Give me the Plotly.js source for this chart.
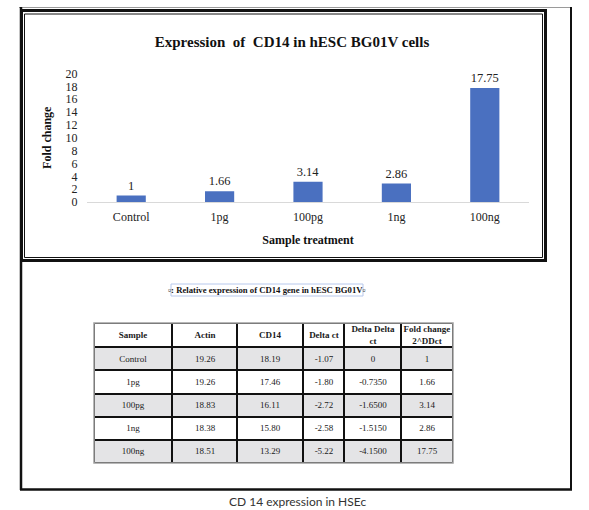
<!DOCTYPE html>
<html>
<head>
<meta charset="utf-8">
<script src="https://cdn.plot.ly/plotly-3.0.1.min.js"></script>
<style>
html,body{margin:0;padding:0;background:#fff;}
#chart{width:589px;height:510px;}
</style>
</head>
<body>
<div id="chart"></div>
<script>
// ---- data ----
const categories = ["Control", "1pg", "100pg", "1ng", "100ng"];
const foldChange = [1, 1.66, 3.14, 2.86, 17.75];
const foldLabels = ["1", "1.66", "3.14", "2.86", "17.75"];
const yTickVals = [0, 2, 4, 6, 8, 10, 12, 14, 16, 18, 20];

const tableHeaders = ["Sample", "Actin", "CD14", "Delta ct", "Delta Delta<br>ct", "Fold change<br>2^DDct"];
const colSample = ["Control", "1pg", "100pg", "1ng", "100ng"];
const colActin = ["19.26", "19.26", "18.83", "18.38", "18.51"];
const colCD14 = ["18.19", "17.46", "16.11", "15.80", "13.29"];
const colDeltaCt = ["-1.07", "-1.80", "-2.72", "-2.58", "-5.22"];
const colDeltaDeltaCt = ["0", "-0.7350", "-1.6500", "-1.5150", "-4.1500"];
const colFold = ["1", "1.66", "3.14", "2.86", "17.75"];

const chartTitle = "Expression&nbsp; of&nbsp; CD14 in hESC BG01V cells";
const xTitle = "Sample treatment";
const yTitle = "Fold change";
const tableCaption = "\u25AB: Relative expression of CD14 gene in hESC BG01V\u25AB";
const figureCaption = "CD 14 expression in HSEc";

// ---- layout helpers ----
const W = 589, H = 510;
const px = v => v / W;
const py = v => 1 - v / H;
const serif = "Liberation Serif";

// table geometry (layout, not data)
const columnWidths = [78, 65, 66, 41, 57, 52];
const headerHeight = 24, rowHeight = 23;
const colEdges = [0];
columnWidths.forEach(w => colEdges.push(colEdges[colEdges.length - 1] + w));
const rowEdges = [0, headerHeight];
colSample.forEach(() => rowEdges.push(rowEdges[rowEdges.length - 1] + rowHeight));
const tableW = colEdges[colEdges.length - 1];
const tableH = rowEdges[rowEdges.length - 1];

// build table grid from the named columns
const columns = [colSample, colActin, colCD14, colDeltaCt, colDeltaDeltaCt, colFold];
const tableText = [tableHeaders.map(h => "<b>" + h + "</b>")];
const tableShade = [tableHeaders.map(() => 0)];
colSample.forEach((_, r) => {
  tableText.push(columns.map(c => c[r]));
  tableShade.push(columns.map(() => (r % 2 === 0 ? 1 : 0)));
});

const bar = {
  type: "bar",
  x: categories,
  y: foldChange,
  text: foldLabels,
  texttemplate: "%{text}",
  textposition: "outside",
  cliponaxis: false,
  textfont: {family: serif, size: 12.5, color: "#222"},
  outsidetextfont: {family: serif, size: 12.5, color: "#222"},
  marker: {color: "#4a70c0"},
  hoverinfo: "x+y",
  xaxis: "x", yaxis: "y"
};

const table = {
  type: "heatmap",
  x: colEdges,
  y: rowEdges,
  z: tableShade,
  zmin: 0, zmax: 1,
  colorscale: [[0, "#ffffff"], [1, "#e4e4e6"]],
  showscale: false,
  xgap: 2, ygap: 2,
  text: tableText,
  texttemplate: "%{text}",
  textfont: {family: serif, size: 9, color: "#1a1a1a"},
  hoverinfo: "skip",
  xaxis: "x2", yaxis: "y2"
};

const layout = {
  width: W, height: H,
  margin: {l: 0, r: 0, t: 0, b: 0},
  paper_bgcolor: "#ffffff",
  plot_bgcolor: "rgba(0,0,0,0)",
  font: {family: serif, color: "#222"},
  showlegend: false,
  bargap: 0.67,
  title: {
    text: "<b>" + chartTitle + "</b>",
    font: {family: serif, size: 15, color: "#111"},
    x: px(292), xanchor: "center",
    y: py(42), yanchor: "middle"
  },
  xaxis: {
    domain: [px(87), px(529)],
    anchor: "y",
    showline: true, linecolor: "#d9d9d9", linewidth: 1,
    showgrid: false, zeroline: false,
    ticks: "outside", ticklen: 4, tickcolor: "rgba(0,0,0,0)",
    tickfont: {family: serif, size: 12, color: "#222"},
    title: {text: "<b>" + xTitle + "</b>", font: {family: serif, size: 12, color: "#111"}, standoff: 12}
  },
  yaxis: {
    domain: [py(202), py(73.5)],
    anchor: "x",
    range: [0, 20],
    tickvals: yTickVals,
    showline: false, showgrid: false, zeroline: false,
    ticks: "outside", ticklen: 6, tickcolor: "rgba(0,0,0,0)",
    tickfont: {family: serif, size: 12, color: "#222"},
    title: {text: "<b>" + yTitle + "</b>", font: {family: serif, size: 12, color: "#111"}, standoff: 11}
  },
  xaxis2: {
    domain: [px(94), px(453)],
    anchor: "y2",
    range: [0, tableW],
    showgrid: false, zeroline: false, showline: false, showticklabels: false, ticks: "", fixedrange: true
  },
  yaxis2: {
    domain: [py(463), py(323)],
    anchor: "x2",
    range: [tableH, 0],
    showgrid: false, zeroline: false, showline: false, showticklabels: false, ticks: "", fixedrange: true
  },
  shapes: [
    // outer page frame
    {type: "line", xref: "paper", yref: "paper", x0: px(19), x1: px(572), y0: py(7.5), y1: py(7.5), line: {color: "#9a9a9a", width: 1}},
    {type: "line", xref: "paper", yref: "paper", x0: px(21), x1: px(21), y0: py(7), y1: py(490), line: {color: "#111", width: 2.5}},
    {type: "line", xref: "paper", yref: "paper", x0: px(571), x1: px(571), y0: py(7), y1: py(490), line: {color: "#111", width: 2}},
    {type: "line", xref: "paper", yref: "paper", x0: px(20), x1: px(572), y0: py(489.5), y1: py(489.5), line: {color: "#111", width: 2.5}},
    // chart frame (double border)
    {type: "rect", xref: "paper", yref: "paper", x0: px(21.5), x1: px(545.5), y0: py(260.5), y1: py(10.5), line: {color: "#111", width: 3}},
    {type: "rect", xref: "paper", yref: "paper", x0: px(24.5), x1: px(542.5), y0: py(257.5), y1: py(14), line: {color: "#111", width: 1}},
    // caption box
    {type: "rect", xref: "paper", yref: "paper", x0: px(171), x1: px(363), y0: py(296), y1: py(284), line: {color: "#b7c8ec", width: 1}},
    // table grid backing (shows through cell gaps as black rules)
    {type: "rect", xref: "paper", yref: "paper", layer: "below", x0: px(94), x1: px(453), y0: py(463), y1: py(323), fillcolor: "#111", line: {width: 0}},
    // table outer grey border
    {type: "rect", xref: "paper", yref: "paper", layer: "above", x0: px(94), x1: px(453), y0: py(463), y1: py(323), line: {color: "#a0a0a0", width: 1.5}}
  ],
  annotations: [
    {xref: "paper", yref: "paper", x: px(267), y: py(290), xanchor: "center", yanchor: "middle", showarrow: false,
     text: "<b>" + tableCaption + "</b>", font: {family: serif, size: 8.7, color: "#111"}},
    {xref: "paper", yref: "paper", x: px(297), y: py(501), xanchor: "center", yanchor: "middle", showarrow: false,
     text: figureCaption, font: {family: "Lato", size: 12, color: "#333"}}
  ]
};

Plotly.newPlot("chart", [bar, table], layout, {displayModeBar: false, staticPlot: true});
</script>
</body>
</html>
